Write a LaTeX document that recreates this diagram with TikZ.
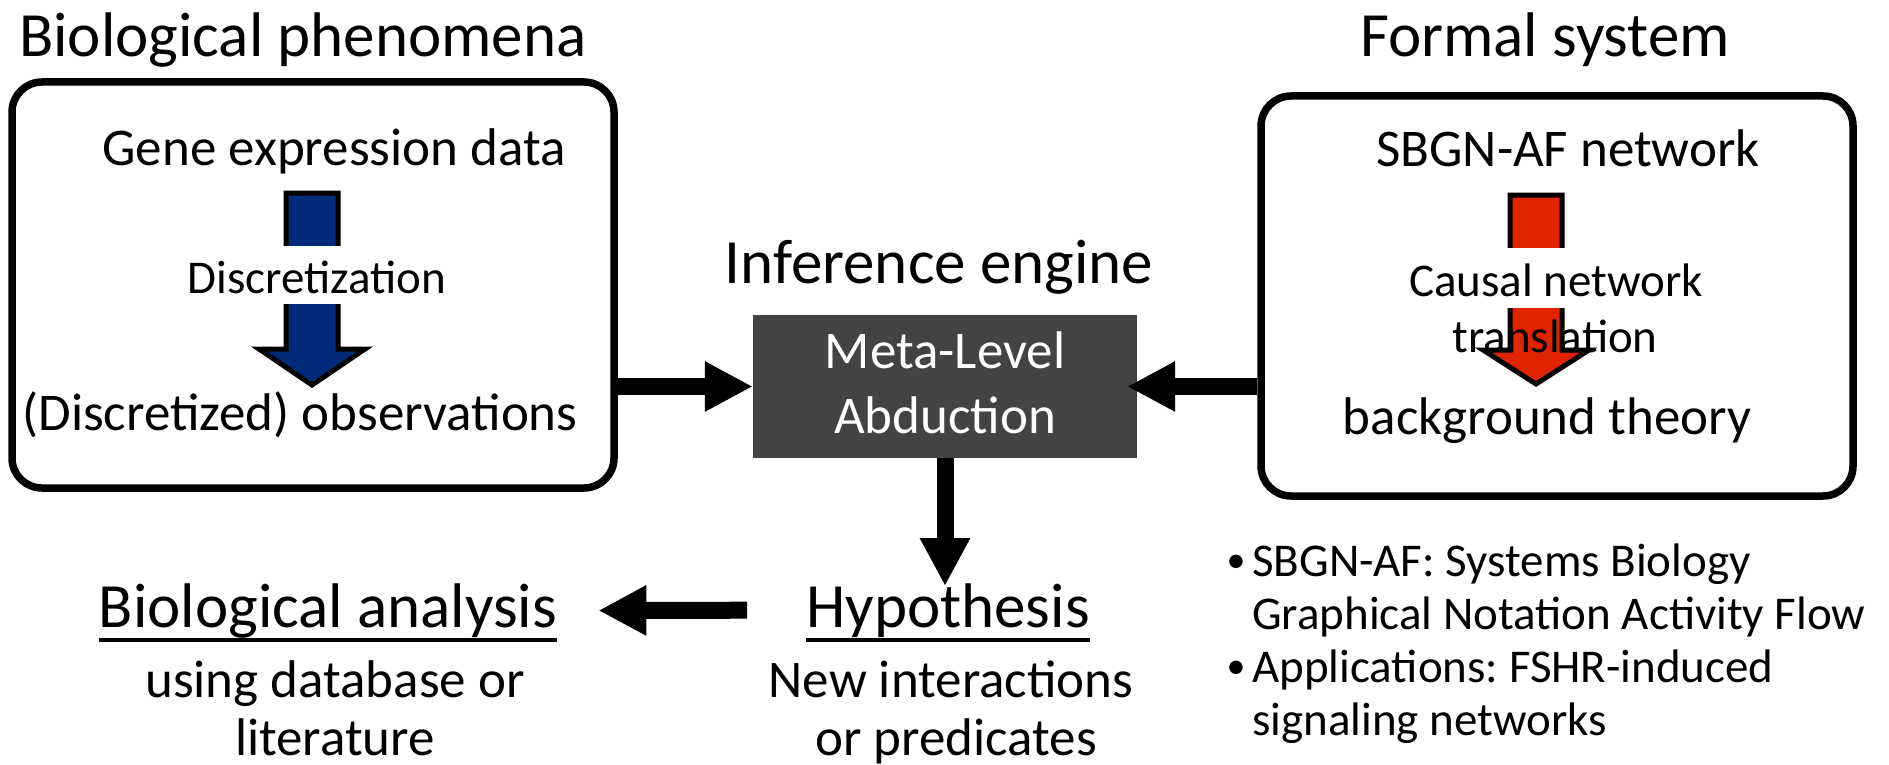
\documentclass[tikz,border=0pt]{standalone}
\usepackage{fontspec}
\setmainfont{Carlito}
\usetikzlibrary{arrows.meta}
\definecolor{blueA}{RGB}{0,42,122}
\definecolor{redA}{RGB}{224,36,0}
\definecolor{darkA}{RGB}{67,67,67}
\frenchspacing
\begin{document}
\begin{tikzpicture}[x=1pt,y=-1pt,
  txt/.style={inner sep=0pt, anchor=base, font=\fontsize{53}{60}\selectfont},
  title/.style={txt, font=\fontsize{63}{70}\selectfont},
  small/.style={txt, font=\fontsize{47}{53}\selectfont},
  bulletmark/.style={txt, font=\fontsize{38}{40}\selectfont},
  frame/.style={draw, line width=7.5pt, rounded corners=30pt, inner sep=0pt},
  bigarrow/.style={line width=17pt, -{Triangle[width=47pt,length=48pt]}},
  blockarrow/.style={draw=black, line width=5pt, line join=miter},
  uline/.style={line width=4.5pt}]
\useasboundingbox (0,0) rectangle (1889,765);
\fill[white] (0,0) rectangle (1889,765);

% titles
\node[title] (tbio) at (303,57) {Biological phenomena};
\node[title] (tformal) at (1545,57) {Formal system};
\node[title] (tinf) at (939,283) {Inference engine};

% frames
\node[frame, minimum width=602pt, minimum height=406pt] (lbox) at (313,285) {};
\node[frame, minimum width=592pt, minimum height=400pt] (rbox) at (1557,296) {};

% central box
\node[fill=darkA, inner sep=0pt, minimum width=384pt, minimum height=143pt] (mla) at (945,386.5) {};
\node[txt, text=white] (meta) at (945,368) {Meta-Level};
\node[txt, text=white] (abd) at (945,433) {Abduction};

% block arrows
\draw[blockarrow, fill=blueA] (286,193) -- (338,193) -- (338,349) -- (365,349) -- (312,385) -- (259,349) -- (286,349) -- cycle;
\fill[white] (280,246) rectangle (344,304);
\draw[blockarrow, fill=redA] (1510,195) -- (1562,195) -- (1562,350) -- (1589,350) -- (1536,384) -- (1483,350) -- (1510,350) -- cycle;
\fill[white] (1504,248) rectangle (1568,308);

% left box texts
\node[txt] (gene) at (334,165) {Gene expression data};
\node[small] (disc) at (317,293) {Discretization};
\node[txt] (obs) at (300,430) {(Discretized) observations};

% right box texts
\node[txt] (sbgn) at (1568,166) {SBGN-AF network};
\node[small] (causal) at (1556,296) {Causal network};
\node[small] (transl) at (1555,352) {translation};
\node[txt] (bg) at (1547,434) {background theory};

% bottom texts
\node[title] (hyp) at (948,627) {Hypothesis};
\draw[uline] ([yshift=-13pt]hyp.base west) -- ([yshift=-13pt]hyp.base east);
\node[txt] (hyp1) at (951,697) {New interactions};
\node[txt] (hyp2) at (956,755) {or predicates};

\node[title] (bana) at (328,627) {Biological analysis};
\draw[uline] ([yshift=-13pt]bana.base west) -- ([yshift=-13pt]bana.base east);
\node[txt] (bana1) at (335,697) {using database or};
\node[txt] (bana2) at (335,755) {literature};

% bullets
\node[bulletmark] (bul1) at (1236,572) {•};
\node[small, anchor=base west] (b1) at (1252,576) {SBGN-AF: Systems Biology};
\node[small, anchor=base west] (b2) at (1252,629) {Graphical Notation Activity Flow};
\node[bulletmark] (bul2) at (1236,678) {•};
\node[small, anchor=base west] (b3) at (1252,682) {Applications: FSHR-induced};
\node[small, anchor=base west] (b4) at (1252,735) {signaling networks};

% connectors
\draw[bigarrow] (lbox.east |- mla.west) -- (mla.west);
\draw[bigarrow] (rbox.west |- mla.east) -- ([xshift=-10pt]mla.east);
\draw[bigarrow] (mla.south) -- ([yshift=-3pt]mla.south |- hyp.north);
\draw[bigarrow] ([xshift=-59pt]hyp.west) -- ([xshift=41pt]bana.east);
\end{tikzpicture}
\end{document}
